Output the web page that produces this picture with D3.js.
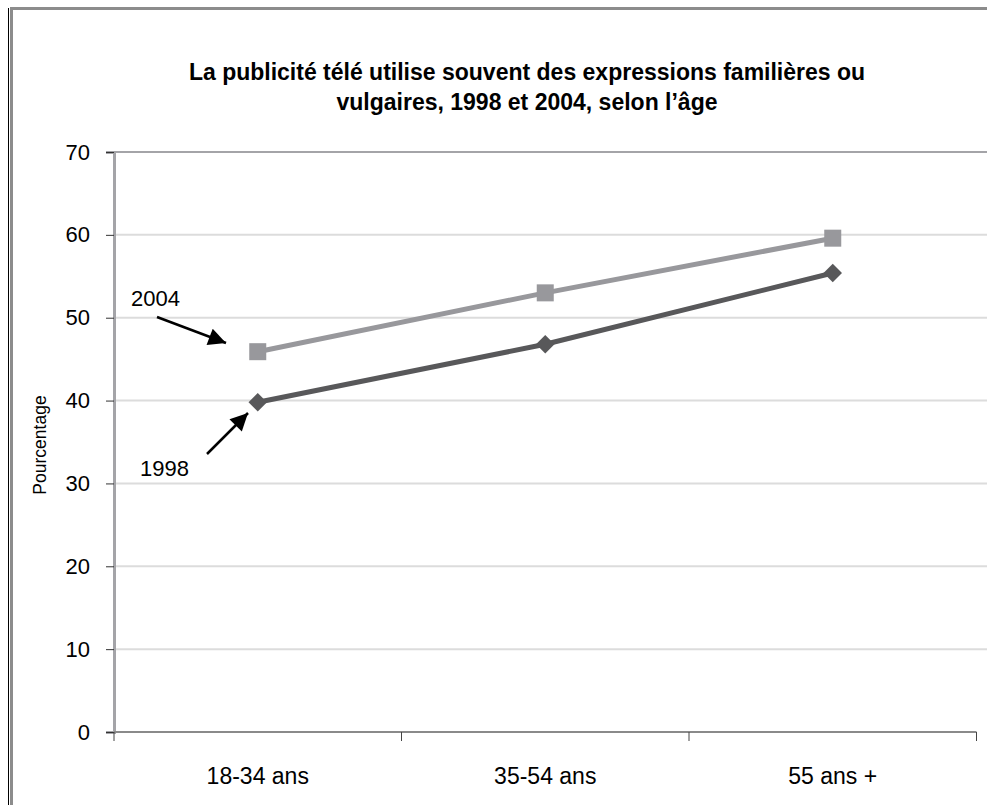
<!DOCTYPE html>
<html>
<head>
<meta charset="utf-8">
<script src="https://cdn.jsdelivr.net/npm/d3@7"></script>
<style>
  body { margin: 0; background: #fff; }
  text { font-family: "Liberation Sans", Arial, sans-serif; fill: #000; }
</style>
</head>
<body>
<svg id="chart" width="987" height="805"></svg>
<script>
// data
const categories = ["18-34 ans", "35-54 ans", "55 ans +"];
const values1998 = [39.8, 46.8, 55.4];
const values2004 = [45.9, 53.0, 59.6];
const yTicks = [0, 10, 20, 30, 40, 50, 60, 70];
const titleLines = [
    "La publicité télé utilise souvent des expressions familières ou",
    "vulgaires, 1998 et 2004, selon l’âge"
];

const svg = d3.select("#chart");
const plotLeft = 114, plotRight = 976.5, plotTop = 152, plotBottom = 732;

const x = d3.scaleBand().domain(categories).range([plotLeft, plotRight]);
const cx = function(d) { return x(d) + x.bandwidth() / 2; };
const y = d3.scaleLinear().domain([0, 70]).range([plotBottom, plotTop]);

// outer frame
svg.append("line").attr("x1", 8.5).attr("x2", 8.5).attr("y1", 8).attr("y2", 805)
    .attr("stroke", "#000").attr("stroke-width", 1);
svg.append("line").attr("x1", 11.5).attr("x2", 11.5).attr("y1", 7).attr("y2", 805)
    .attr("stroke", "#8c8c8c").attr("stroke-width", 3);
svg.append("line").attr("x1", 10).attr("x2", 987).attr("y1", 8.5).attr("y2", 8.5)
    .attr("stroke", "#8c8c8c").attr("stroke-width", 3);

// title
svg.append("text")
    .attr("x", 527).attr("y", 80)
    .attr("text-anchor", "middle")
    .style("font-weight", "bold").style("font-size", "23px")
    .selectAll("tspan")
    .data(titleLines)
    .enter().append("tspan")
        .attr("x", 527)
        .attr("dy", function(d, i) { return i === 0 ? 0 : 30; })
        .text(function(d) { return d; });

// gridlines
svg.append("g").selectAll("line")
    .data(yTicks.filter(function(d) { return d > 0 && d < 70; }))
    .enter().append("line")
    .attr("x1", plotLeft).attr("x2", 987)
    .attr("y1", function(d) { return y(d); }).attr("y2", function(d) { return y(d); })
    .attr("stroke", "#dcdcdc").attr("stroke-width", 2);

// plot top border
svg.append("line").attr("x1", plotLeft).attr("x2", 987).attr("y1", plotTop).attr("y2", plotTop)
    .attr("stroke", "#a4a4a8").attr("stroke-width", 2);

// y axis
const yAxis = svg.append("g")
    .attr("transform", "translate(" + plotLeft + ",0)")
    .call(d3.axisLeft(y).tickValues(yTicks).tickSize(8).tickPadding(16));
yAxis.select(".domain").attr("stroke", "#a4a4a8").attr("stroke-width", 3);
yAxis.selectAll(".tick line").attr("stroke", "#333");
yAxis.selectAll(".tick text").style("font-size", "22px").style("font-family", "Liberation Sans, Arial, sans-serif");

// x axis with ticks at category boundaries
const xAxis = svg.append("g").attr("transform", "translate(0," + plotBottom + ")");
xAxis.append("line").attr("x1", plotLeft).attr("x2", plotRight).attr("stroke", "#8a8a8a").attr("stroke-width", 2);
xAxis.selectAll("line.tk")
    .data(categories.map(function(c) { return x(c); }).concat([plotRight]))
    .enter().append("line").attr("class", "tk")
    .attr("x1", function(d) { return d; }).attr("x2", function(d) { return d; })
    .attr("y1", 0).attr("y2", 9)
    .attr("stroke", "#444").attr("stroke-width", 1);
xAxis.selectAll("text")
    .data(categories)
    .enter().append("text")
    .attr("x", cx).attr("y", 52)
    .attr("text-anchor", "middle")
    .style("font-size", "23px")
    .text(function(d) { return d; });

// y axis title
svg.append("text")
    .attr("transform", "translate(46,445) rotate(-90)")
    .attr("text-anchor", "middle")
    .style("font-size", "17.5px")
    .text("Pourcentage");

// series lines
const line = d3.line()
    .x(function(d, i) { return cx(categories[i]); })
    .y(function(d) { return y(d); });

svg.append("path").datum(values2004)
    .attr("d", line).attr("fill", "none")
    .attr("stroke", "#98989c").attr("stroke-width", 5);
svg.append("path").datum(values1998)
    .attr("d", line).attr("fill", "none")
    .attr("stroke", "#58585a").attr("stroke-width", 5);

// markers
svg.append("g").selectAll("rect")
    .data(values2004)
    .enter().append("rect")
    .attr("x", function(d, i) { return cx(categories[i]) - 8.5; })
    .attr("y", function(d) { return y(d) - 8.5; })
    .attr("width", 17).attr("height", 17)
    .attr("fill", "#98989c");

const diamond = d3.symbol().type(d3.symbolSquare).size(170);
svg.append("g").selectAll("path")
    .data(values1998)
    .enter().append("path")
    .attr("d", diamond)
    .attr("transform", function(d, i) {
        return "translate(" + cx(categories[i]) + "," + y(d) + ") rotate(45)";
    })
    .attr("fill", "#58585a");

// annotations with arrows
const defs = svg.append("defs");
defs.append("marker")
    .attr("id", "arrow")
    .attr("viewBox", "0 0 10 10")
    .attr("refX", 10).attr("refY", 5)
    .attr("markerWidth", 8).attr("markerHeight", 7)
    .attr("markerUnits", "strokeWidth")
    .attr("orient", "auto")
    .append("path").attr("d", "M0,0 L10,5 L0,10 Z").attr("fill", "#000");

svg.append("text").attr("x", 131).attr("y", 306).style("font-size", "22px").text("2004");
svg.append("text").attr("x", 140).attr("y", 476).style("font-size", "22px").text("1998");

svg.append("line")
    .attr("x1", 157).attr("y1", 317).attr("x2", 226).attr("y2", 343)
    .attr("stroke", "#000").attr("stroke-width", 2.5)
    .attr("marker-end", "url(#arrow)");
svg.append("line")
    .attr("x1", 207).attr("y1", 454).attr("x2", 248).attr("y2", 413)
    .attr("stroke", "#000").attr("stroke-width", 2.5)
    .attr("marker-end", "url(#arrow)");
</script>
</body>
</html>
